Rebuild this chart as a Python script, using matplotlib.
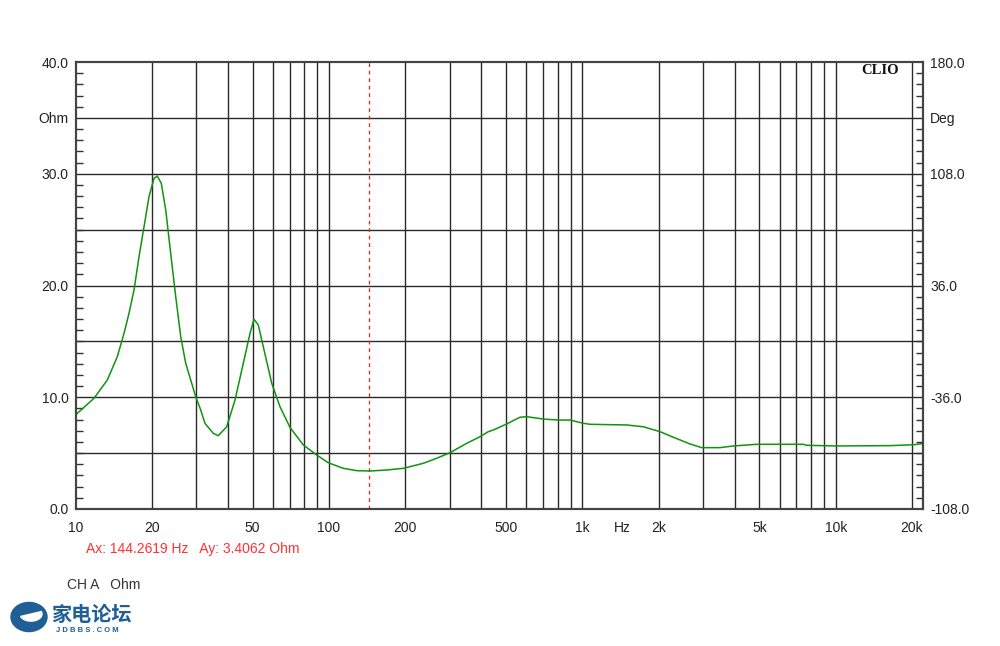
import matplotlib
matplotlib.use("Agg")
import matplotlib.pyplot as plt
from matplotlib.patches import Ellipse, Wedge
from matplotlib.ticker import FixedLocator, NullFormatter

plt.rcParams["font.family"] = ["Liberation Sans", "DejaVu Sans"]

# impedance curve (Hz, Ohm)
freq = [10.0, 11.83, 13.35, 14.62, 15.54, 16.26, 17.02, 17.81, 18.64, 19.50,
        20.41, 21.02, 21.80, 22.70, 23.75, 24.86, 26.02, 27.22, 28.49, 29.81,
        31.20, 32.43, 34.98, 36.60, 39.51, 42.60, 45.94, 48.83, 50.62, 52.64,
        55.09, 59.48, 64.12, 70.22, 79.25, 89.5, 99.45, 114.0, 128.8, 145.3,
        169.1, 196.7, 235.8, 266.3, 300.6, 349.9, 394.9, 425.6, 445.5, 503.0,
        567.6, 603.3, 701.7, 804.2, 894.3, 1009, 1073, 1497, 1740, 2026,
        2286, 2661, 2960, 3495, 3944, 4878, 7449, 7683, 10090, 16380,
        20240, 22100]
ohm = [8.41, 9.91, 11.54, 13.63, 15.72, 17.51, 19.60, 22.58, 25.26, 27.95,
       29.59, 29.80, 29.15, 26.76, 22.88, 19.00, 15.42, 13.04, 11.54, 10.05,
       8.86, 7.66, 6.77, 6.56, 7.36, 9.75, 13.04, 15.72, 16.98, 16.47,
       14.52, 11.25, 9.15, 7.30, 5.73, 4.83, 4.14, 3.64, 3.43, 3.40,
       3.49, 3.64, 4.09, 4.54, 5.04, 5.88, 6.47, 6.92, 7.07, 7.61,
       8.21, 8.26, 8.05, 7.96, 7.96, 7.67, 7.58, 7.52, 7.36, 6.92,
       6.42, 5.82, 5.49, 5.49, 5.64, 5.79, 5.79, 5.70, 5.64, 5.67,
       5.75, 5.85]

cursor_hz = 144.2619
cursor_ohm = 3.4062

x_ticks = [10, 20, 50, 100, 200, 500, 1000, 1435, 2000, 5000, 10000, 20000]
x_labels = ["10", "20", "50", "100", "200", "500", "1k", "Hz", "2k", "5k", "10k", "20k"]
left_ticks = [0, 10, 20, 30, 35, 40]
left_labels = ["0.0", "10.0", "20.0", "30.0", "Ohm", "40.0"]
right_ticks = [-108, -36, 36, 108, 144, 180]
right_labels = ["-108.0", "-36.0", "36.0", "108.0", "Deg", "180.0"]

grid_col = "#2a2a2a"

fig = plt.figure(figsize=(10, 6.46), dpi=100)
ax = fig.add_axes([0.0755, 1 - 509 / 646, 0.8475, 447 / 646])
ax.set_xscale("log")
ax.set_xlim(10, 22100)
ax.set_ylim(0, 40)

# grid
vlines = [m * d for d in (10, 100, 1000, 10000) for m in range(1, 10)
          if 10 < m * d <= 20000]
for v in vlines:
    ax.axvline(v, color=grid_col, lw=1, zorder=1)
for h in range(5, 40, 5):
    ax.axhline(h, color=grid_col, lw=1, zorder=1)

ax.axvline(cursor_hz, color="#ee2222", lw=0.9, ls=(0, (3, 3)), zorder=2)
ax.plot(freq, ohm, color="#119311", lw=1.1, zorder=3)

ax.xaxis.set_major_locator(FixedLocator(x_ticks))
ax.xaxis.set_minor_locator(FixedLocator([]))
ax.set_xticklabels(x_labels)
ax.xaxis.set_minor_formatter(NullFormatter())
ax.tick_params(axis="x", which="both", length=0, pad=9, labelsize=10,
               labelcolor="#222222")

ax.set_yticks(left_ticks)
ax.set_yticklabels(left_labels)
ax.set_yticks(range(0, 41), minor=True)
ax.tick_params(axis="y", which="major", length=0, pad=5, labelsize=10,
               labelcolor="#222222")
ax.tick_params(axis="y", which="minor", direction="in", length=5,
               color="#333333", width=1)

ax2 = ax.twinx()
ax2.set_ylim(-108, 180)
ax2.set_yticks(right_ticks)
ax2.set_yticklabels(right_labels)
ax2.set_yticks([-108 + 7.2 * i for i in range(41)], minor=True)
ax2.tick_params(axis="y", which="major", length=0, pad=5, labelsize=10,
                labelcolor="#222222")
ax2.tick_params(axis="y", which="minor", direction="in", length=5,
                color="#333333", width=1)

for a in (ax, ax2):
    for s in a.spines.values():
        s.set_color("#444444")
        s.set_linewidth(1.5)

fig.text(0.899, 1 - 71 / 646, "CLIO", ha="right", va="center",
         fontsize=10.5, fontweight="bold", family="Liberation Serif",
         color="#111111")

fig.text(0.086, 1 - 549 / 646, f"Ax: {cursor_hz:.4f} Hz   Ay: {cursor_ohm:.4f} Ohm",
         color="#ff3030", fontsize=10, va="center", ha="left")
fig.text(0.067, 1 - 585 / 646, "CH A   Ohm", color="#333333", fontsize=10,
         va="center", ha="left")

# logo
logo_blue = "#1f5f96"
fig.patches.append(Ellipse((0.029, 1 - 617 / 646), 0.036, 0.045,
                           transform=fig.transFigure, color=logo_blue))
fig.patches.append(Wedge((0.031, 1 - 614 / 646), 0.011, 200, 20,
                         transform=fig.transFigure, color="white"))
fig.text(0.051, 1 - 614 / 646, "家电论坛", color=logo_blue, fontsize=14.5,
         fontweight="bold", style="italic",
         family=["Noto Sans CJK SC", "DejaVu Sans"], va="center", ha="left")
fig.text(0.056, 1 - 631 / 646, "J D B B S . C O M", color=logo_blue, fontsize=5.5,
         fontweight="bold", va="center", ha="left")

fig.savefig("out.png", dpi=100, facecolor="white")
